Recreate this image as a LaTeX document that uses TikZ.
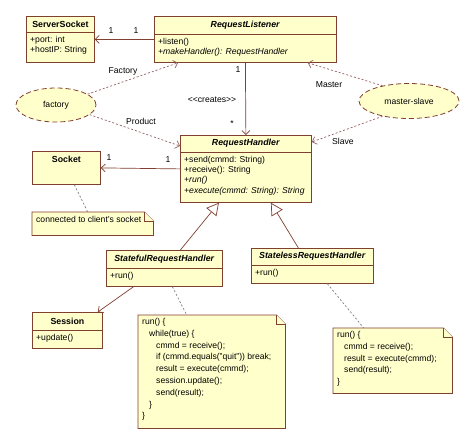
\documentclass[tikz,border=0pt]{standalone}
\usepackage{fontspec}
\setmainfont{Liberation Sans}
\usetikzlibrary{arrows.meta,shapes.geometric,positioning}
\definecolor{umlfill}{RGB}{255,255,204}
\definecolor{umlline}{RGB}{128,64,48}
\definecolor{umldash}{RGB}{150,96,96}
\begin{document}
\begin{tikzpicture}[x=1pt, y=-1pt, font=\fontsize{8.6}{10}\selectfont,
	box/.style={draw=umlline, fill=umlfill, line width=0.8pt, anchor=north west, inner sep=0pt},
	head/.style={anchor=north, inner sep=0pt, font=\fontsize{8.8}{10}\selectfont\bfseries},
	sep/.style={draw=umlline, line width=0.8pt},
	body/.style={anchor=north west, align=left, inner xsep=0pt, inner ysep=3.5pt, font=\fontsize{8.6}{10.3}\selectfont},
	usecase/.style={ellipse, draw=umlline, fill=umlfill, dash pattern=on 5pt off 3pt, line width=0.8pt, inner sep=0pt},
	note/.style={anchor=north west, inner sep=0pt},
	notedraw/.style={draw=umlline, fill=umlfill, line width=0.8pt},
	notetext/.style={anchor=north west, align=left, inner sep=0pt, font=\fontsize{8.6}{11.8}\selectfont},
	assoc/.style={draw=umlline, line width=0.7pt, -{Straight Barb[length=4pt, width=8pt]}},
	dep/.style={draw=umldash, line width=0.7pt, dash pattern=on 2pt off 2pt, -{Straight Barb[length=4pt, width=8pt]}},
	gen/.style={draw=umlline, line width=0.7pt, -{Triangle[open, length=12pt, width=13pt, fill=white]}},
	link/.style={draw=gray, line width=0.7pt, dash pattern=on 2pt off 2pt},
	lbl/.style={inner sep=0pt}]
	\useasboundingbox[fill=white] (0,0) rectangle (475,445);

	% ServerSocket
	\node[box, minimum width=68pt, minimum height=46pt] (ss) at (26,16) {};
	\node[head, minimum height=16pt] (ss-t) at (ss.north) {ServerSocket};
	\draw[sep] (ss-t.south -| ss.west) -- (ss-t.south -| ss.east);
	\node[body] (ss-b) at ([xshift=4pt]ss-t.south -| ss.west) {+port: int\\+hostIP: String};

	% RequestListener
	\node[box, minimum width=182pt, minimum height=46pt] (rl) at (154,16) {};
	\node[head, minimum height=18pt] (rl-t) at (rl.north) {\textit{RequestListener}};
	\draw[sep] (rl-t.south -| rl.west) -- (rl-t.south -| rl.east);
	\node[body] (rl-b) at ([xshift=4pt]rl-t.south -| rl.west) {+listen()\\\textit{+makeHandler(): RequestHandler}};

	% RequestHandler
	\node[box, minimum width=131pt, minimum height=67pt] (rh) at (180,135) {};
	\node[head, minimum height=17pt] (rh-t) at (rh.north) {\textit{RequestHandler}};
	\draw[sep] (rh-t.south -| rh.west) -- (rh-t.south -| rh.east);
	\node[body] (rh-b) at ([xshift=4pt]rh-t.south -| rh.west) {+send(cmmd: String)\\+receive(): String\\\textit{+run()}\\\textit{+execute(cmmd: String): String}};

	% Socket
	\node[box, minimum width=68pt, minimum height=33pt] (sock) at (32,151) {};
	\node[head, minimum height=17pt] (sock-t) at (sock.north) {Socket};

	% StatefulRequestHandler
	\node[box, minimum width=116pt, minimum height=36pt] (sf) at (106,250) {};
	\node[head, minimum height=18pt] (sf-t) at (sf.north) {\textit{StatefulRequestHandler}};
	\draw[sep] (sf-t.south -| sf.west) -- (sf-t.south -| sf.east);
	\node[body] (sf-b) at ([xshift=4pt]sf-t.south -| sf.west) {+run()};

	% StatelessRequestHandler
	\node[box, minimum width=122pt, minimum height=35pt] (sl) at (251,248) {};
	\node[head, minimum height=17pt] (sl-t) at (sl.north) {\textit{StatelessRequestHandler}};
	\draw[sep] (sl-t.south -| sl.west) -- (sl-t.south -| sl.east);
	\node[body] (sl-b) at ([xshift=4pt]sl-t.south -| sl.west) {+run()};

	% Session
	\node[box, minimum width=70pt, minimum height=36pt] (sess) at (32,312) {};
	\node[head, minimum height=18pt] (sess-t) at (sess.north) {Session};
	\draw[sep] (sess-t.south -| sess.west) -- (sess-t.south -| sess.east);
	\node[body] (sess-b) at ([xshift=4pt]sess-t.south -| sess.west) {+update()};

	% patterns
	\node[usecase, minimum width=80pt, minimum height=34pt] (fac) at (56,105) {factory};
	\node[usecase, minimum width=100pt, minimum height=35pt] (ms) at (409,101) {master-slave};

	% notes
	\node[note, minimum width=121pt, minimum height=23pt] (cn) at (32,212) {};
	\draw[notedraw] (cn.north west) -- ([xshift=-9pt]cn.north east) -- ([yshift=-9pt]cn.north east) -- (cn.south east) -- (cn.south west) -- cycle;
	\draw[notedraw] ([xshift=-9pt]cn.north east) |- ([yshift=-9pt]cn.north east);
	\node[notetext] (cn-t) at (36,216) {connected to client's socket};

	\node[note, minimum width=147pt, minimum height=113pt] (code) at (138,315) {};
	\draw[notedraw] (code.north west) -- ([xshift=-9pt]code.north east) -- ([yshift=-9pt]code.north east) -- (code.south east) -- (code.south west) -- cycle;
	\draw[notedraw] ([xshift=-9pt]code.north east) |- ([yshift=-9pt]code.north east);
	\node[notetext] (code-t) at (142,318) {run() \{\\
		\hspace*{7pt}while(true) \{\\
		\hspace*{14pt}cmmd = receive();\\
		\hspace*{14pt}if (cmmd.equals("quit")) break;\\
		\hspace*{14pt}result = execute(cmmd);\\
		\hspace*{14pt}session.update();\\
		\hspace*{14pt}send(result);\\
		\hspace*{7pt}\}\\
		\}};

	\node[note, minimum width=119pt, minimum height=65pt] (nl) at (333,328) {};
	\draw[notedraw] (nl.north west) -- ([xshift=-9pt]nl.north east) -- ([yshift=-9pt]nl.north east) -- (nl.south east) -- (nl.south west) -- cycle;
	\draw[notedraw] ([xshift=-9pt]nl.north east) |- ([yshift=-9pt]nl.north east);
	\node[notetext] (nl-t) at (337,331) {run() \{\\
		\hspace*{7pt}cmmd = receive();\\
		\hspace*{7pt}result = execute(cmmd);\\
		\hspace*{7pt}send(result);\\
		\}};

	% associations
	\draw[assoc] (rl.west) -- (ss.east);
	\node[lbl] (m1) at (111,31) {1};
	\node[lbl] (m2) at (136,31) {1};
	\draw[assoc] (rl.south) -- (rh.north);
	\node[lbl] (m3) at (238,70) {1};
	\node[lbl] (m4) at (232,124) {*};
	\node[lbl] (cr) at (212,100) {{<}{<}creates{>}{>}};
	\draw[assoc] (rh.west) -- (sock.east);
	\node[lbl] (m5) at (109,158) {1};
	\node[lbl] (m6) at (168,160) {1};
	\draw[assoc] ([xshift=-31pt]sf.south) -- ([xshift=-5pt]sess.north east);

	% generalizations
	\draw[gen] ([xshift=16pt]sf.north) -- ([xshift=-27pt]rh.south);
	\draw[gen] ([xshift=-14pt]sl.north) -- ([xshift=25pt]rh.south);

	% pattern roles
	\draw[dep] (fac.19) -- ([xshift=24pt]rl.south west);
	\node[lbl] (fr) at (123,71) {Factory};
	\draw[dep] (fac.-16) -- ([yshift=-11pt]rh.north west);
	\node[lbl] (pr) at (141,121) {Product};
	\draw[dep] (ms.150) -- ([xshift=-29pt]rl.south east);
	\node[lbl] (mr) at (329,85) {Master};
	\draw[dep] (ms.-150) -- ([yshift=-7pt]rh.north east);
	\node[lbl] (sr) at (343,141) {Slave};

	% note links
	\draw[link] ([xshift=8pt]sock.south) -- ([xshift=-5pt]cn.north);
	\draw[link] ([xshift=8pt]sf.south) -- ([xshift=-25pt]code.north);
	\draw[link] ([xshift=15pt]sl.south) -- ([xshift=-29pt]nl.north);
\end{tikzpicture}
\end{document}
